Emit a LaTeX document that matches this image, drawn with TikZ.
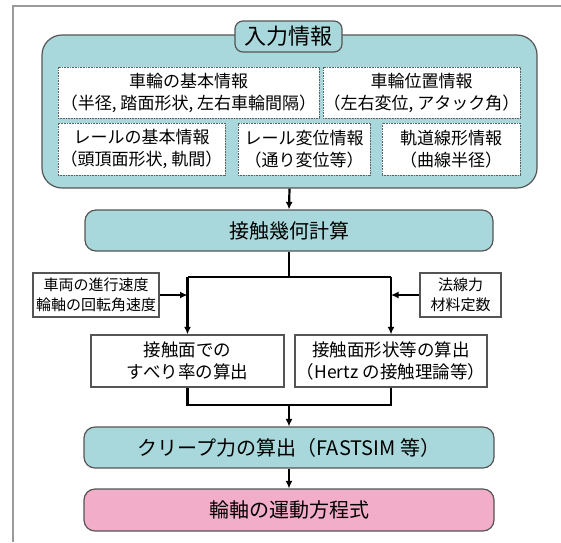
\documentclass[tikz,border=0pt]{standalone}
\usepackage{fontspec}
\setmainfont{Noto Sans CJK JP}
\usetikzlibrary{arrows.meta}
\definecolor{teal1}{HTML}{A8D8DB}
\definecolor{pink1}{HTML}{F2ADC8}
\definecolor{edge}{HTML}{555555}
\definecolor{framegray}{HTML}{9A9A9A}
\begin{document}
\begin{tikzpicture}[x=1pt,y=-1pt,
  bigbox/.style={draw=edge, line width=1.2pt, fill=teal1, rounded corners=20pt, inner sep=0pt},
  tabbox/.style={draw=edge, line width=1.2pt, fill=teal1, rounded corners=8pt, inner sep=0pt, font=\fontsize{22}{26}\selectfont},
  infobox/.style={draw=gray!75!black, line width=1pt, dash pattern=on 1pt off 0.6pt, fill=white, inner sep=0pt, align=center, font=\fontsize{17}{22}\selectfont},
  tealbox/.style={draw=edge, line width=1.2pt, fill=teal1, rounded corners=11pt, inner sep=0pt, align=center, font=\fontsize{20}{24}\selectfont},
  pinkbox/.style={tealbox, fill=pink1},
  plainbox/.style={draw=edge, line width=1.3pt, fill=white, inner sep=0pt, align=center, font=\fontsize{17.5}{22}\selectfont},
  sidebox/.style={draw=edge, line width=1.3pt, fill=white, inner sep=0pt, align=center, font=\fontsize{15}{20}\selectfont},
  conn/.style={line width=2.2pt, black},
  arr/.style={conn, -{Latex[length=7.5pt,width=7pt]}}
]
\useasboundingbox (0,0) rectangle (561,542);
\draw[framegray, line width=1.6pt] (13,542) -- (13,6) -- (561,6);

\node[bigbox, minimum width=495pt, minimum height=153pt] (inp) at (289.5,111.5) {};
\node[tabbox, minimum width=107pt, minimum height=31pt] (tab) at (288.5,36.5) {入力情報};

\node[infobox, minimum width=261pt, minimum height=51pt] (a) at (188.5,92.5) {車輪の基本情報\\（半径, 踏面形状, 左右車輪間隔）};
\node[infobox, minimum width=197pt, minimum height=51pt] (b) at (421.5,92.5) {車輪位置情報\\（左右変位, アタック角）};
\node[infobox, minimum width=167pt, minimum height=52pt] (c) at (141.5,149) {レールの基本情報\\（頭頂面形状, 軌間）};
\node[infobox, minimum width=132pt, minimum height=52pt] (d) at (304,149) {レール変位情報\\（通り変位等）};
\node[infobox, minimum width=138pt, minimum height=52pt] (e) at (451,149) {軌道線形情報\\（曲線半径）};

\node[tealbox, minimum width=408pt, minimum height=41pt] (geo) at (289,230.5) {接触幾何計算};
\node[sidebox, minimum width=126pt, minimum height=44pt] (vin) at (96,295) {車両の進行速度\\輪軸の回転角速度};
\node[sidebox, minimum width=81pt, minimum height=44pt] (mat) at (460.5,295) {法線力\\材料定数};
\node[plainbox, minimum width=193pt, minimum height=52pt] (slip) at (187.5,361) {接触面での\\すべり率の算出};
\node[plainbox, minimum width=192pt, minimum height=52pt] (hertz) at (391,361) {接触面形状等の算出\\（Hertz の接触理論等）};
\node[tealbox, minimum width=410pt, minimum height=41pt] (creep) at (289,447.5) {クリープ力の算出（FASTSIM 等）};
\node[pinkbox, minimum width=410pt, minimum height=42pt] (eq) at (289,510) {輪軸の運動方程式};

\coordinate (tl) at (187.5,277);
\coordinate (tr) at (391,277);
\coordinate (bm) at (289,405);

\draw[arr] (inp.south) -- (geo.north);
\draw[conn] (geo.south) |- (tl);
\draw[conn] (geo.south) |- (tr);
\draw[arr] (tl) -- (slip.north);
\draw[arr] (tr) -- (hertz.north);
\draw[arr] (vin.east) -- (vin.east -| tl);
\draw[arr] (mat.west) -- (mat.west -| tr);
\draw[conn] (slip.south) |- (bm);
\draw[conn] (hertz.south) |- (bm);
\draw[arr] (bm) -- (creep.north);
\draw[arr] (creep.south) -- (eq.north);
\end{tikzpicture}
\end{document}
